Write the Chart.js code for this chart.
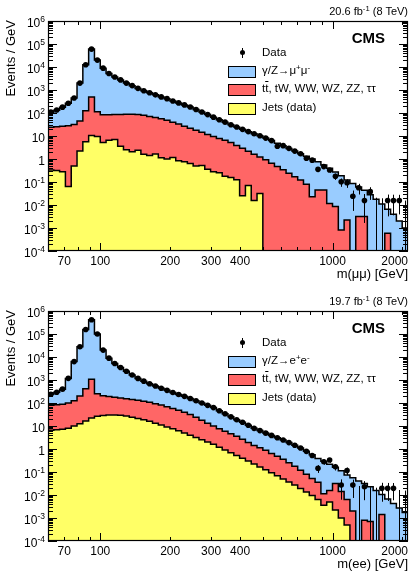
<!DOCTYPE html>
<html><head><meta charset="utf-8">
<script src="https://cdn.jsdelivr.net/npm/chart.js@4.4.1/dist/chart.umd.min.js"></script>
<style>
body{margin:0;background:#fff;width:418px;height:574px;overflow:hidden;position:relative;font-family:"Liberation Sans",Arial,Helvetica,sans-serif;color:#000}
.panel{position:absolute;left:0;width:418px}
.panel canvas{position:absolute;left:0;top:0}
.t{position:absolute;white-space:nowrap}
.sup{font-size:0.7em;position:relative;top:-0.5em}
.lg{position:absolute;left:262px;font-size:11.5px;line-height:11.5px;white-space:nowrap}
.box{position:absolute;left:228px;width:28px;height:12px;box-sizing:border-box;border:1px solid #000}
.dot{position:absolute;left:239.6px;top:50px;width:5.4px;height:5.4px;border-radius:50%;background:#000}
.bar{position:absolute;left:242px;top:48px;width:1px;height:9.5px;background:#000}
.ytitle{position:absolute;left:4px;top:120px;width:100px;text-align:right;font-size:13px;line-height:13px;transform-origin:0 0;transform:rotate(-90deg);white-space:nowrap}
.xtitle{position:absolute;right:10px;top:267px;font-size:13px;line-height:13px;white-space:nowrap}
.lumi{position:absolute;right:10px;top:6px;font-size:11px;line-height:11px;white-space:nowrap}
.cms{position:absolute;right:33px;top:30px;font-size:15px;line-height:15px;font-weight:bold}
</style></head>
<body>
<div class="panel" style="top:0;height:290px">
  <canvas id="c1" width="418" height="290"></canvas>
  <div class="lumi">20.6 fb<span class="sup">-1</span> (8 TeV)</div>
  <div class="cms">CMS</div>
  <div class="bar"></div><div class="dot"></div>
  <div class="lg" style="top:46.8px">Data</div>
  <div class="box" style="top:65.5px;background:#99ccff"></div>
  <div class="lg" style="top:64.8px">γ/Z→μ<span class="sup">+</span>μ<span class="sup">-</span></div>
  <div class="box" style="top:84px;background:#ff6666"></div>
  <div class="lg" style="top:83.3px">t<span style="text-decoration:overline">t</span>, tW, WW, WZ, ZZ, ττ</div>
  <div class="box" style="top:102.5px;background:#ffff66"></div>
  <div class="lg" style="top:101.8px">Jets (data)</div>
  <div class="ytitle">Events / GeV</div>
  <div class="xtitle">m(μμ) [GeV]</div>
</div>
<div class="panel" style="top:290px;height:284px">
  <canvas id="c2" width="418" height="284"></canvas>
  <div class="lumi">19.7 fb<span class="sup">-1</span> (8 TeV)</div>
  <div class="cms">CMS</div>
  <div class="bar"></div><div class="dot"></div>
  <div class="lg" style="top:46.8px">Data</div>
  <div class="box" style="top:65.5px;background:#99ccff"></div>
  <div class="lg" style="top:64.8px">γ/Z→e<span class="sup">+</span>e<span class="sup">-</span></div>
  <div class="box" style="top:84px;background:#ff6666"></div>
  <div class="lg" style="top:83.3px">t<span style="text-decoration:overline">t</span>, tW, WW, WZ, ZZ, ττ</div>
  <div class="box" style="top:102.5px;background:#ffff66"></div>
  <div class="lg" style="top:101.8px">Jets (data)</div>
  <div class="ytitle">Events / GeV</div>
  <div class="xtitle">m(ee) [GeV]</div>
</div>
<script>
// ---- binning (GeV) ----
const binEdges = [59.57, 63.10, 66.83, 70.79, 74.99, 79.43, 84.14, 89.13, 94.41, 100.0,
  105.93, 112.2, 118.85, 125.89, 133.35, 141.25, 149.62, 158.49, 167.88, 177.83,
  188.36, 199.53, 211.35, 223.87, 237.14, 251.19, 266.07, 281.84, 298.54, 316.23,
  334.97, 354.81, 375.84, 398.11, 421.7, 446.68, 473.15, 501.19, 530.88, 562.34,
  595.66, 630.96, 668.34, 707.95, 749.89, 794.33, 841.4, 891.25, 944.06, 1000,
  1059.25, 1122.02, 1188.5, 1258.93, 1333.52, 1412.54, 1496.24, 1584.89, 1678.8, 1778.28,
  1883.65, 1995.26, 2113.49];

// ---- axis ticks ----
const xTickValues = [70, 100, 200, 300, 400, 1000, 2000];
const xTickLabels = ['70', '100', '200', '300', '400', '1000', '2000'];
const xMajorTicks = [100, 1000];
const xMinorTicks = [70, 80, 90, 200, 300, 400, 500, 600, 700, 800, 900, 2000];
const yTickValues = [1e-4, 1e-3, 1e-2, 1e-1, 1, 10, 1e2, 1e3, 1e4, 1e5, 1e6];
const yTickBase = ['10', '10', '10', '10', '1', '10', '10', '10', '10', '10', '10'];
const yTickExp = ['-4', '-3', '-2', '-1', '', '', '2', '3', '4', '5', '6'];

// ---- m(mumu), events / GeV ----
const mumuJets = [0.331, 0.316, 0.282, 0.063, 0.501, 2.24, 5.62, 10.5, 9.55, 5.25,
  6.61, 7.08, 3.55, 2.51, 2.09, 2.40, 1.59, 1.41, 1.66, 1.12,
  1.0, 1.15, 0.832, 0.759, 0.631, 0.501, 0.525, 0.355, 0.282, 0.251,
  0.178, 0.158, 0.126, 0.0251, 0.0708, 0.0158, 0.0316, 0, 0, 0,
  0, 0, 0, 0, 0, 0, 0, 0, 0, 0,
  0, 0, 0, 0, 0, 0, 0, 0, 0, 0,
  0, 0];
const mumuTop = [23.7, 24.8, 26.0, 28.1, 31.1, 42.5, 120, 491, 103, 77.9,
  76.6, 78.0, 83.5, 86.6, 87.0, 82.7, 77.8, 69.4, 61.4, 55.1,
  46.9, 38.7, 32.3, 26.1, 21.3, 17.3, 13.9, 11.4, 9.27, 7.51,
  6.28, 5.09, 3.76, 2.93, 2.12, 1.61, 1.20, 0.933, 0.661, 0.468,
  0.339, 0.240, 0.170, 0.123, 0.0794, 0.0229, 0.0447, 0.0447, 0.0117, 0.00851,
  0.00081, 0.00224, 0, 0.00316, 0.00316, 0, 0, 0, 0.000589, 0,
  0, 0];
const mumuDY = [83.2, 107, 152, 235, 415, 1950, 12400, 59755, 19841, 8830,
  5165, 3630, 2667, 1906, 1460, 1090, 854, 688, 554, 445,
  369, 291, 242, 197, 160, 124, 95.2, 73.4, 56.5, 43.5,
  33.4, 25.7, 20.6, 16.5, 13.3, 11.0, 9.0, 7.2, 5.65, 4.43,
  3.46, 2.64, 2.07, 1.58, 1.24, 0.977, 0.714, 0.505, 0.386, 0.267,
  0.185, 0.121, 0.0851, 0.0571, 0.0405, 0.0282, 0.0178, 0.0110, 0.00602, 0.00398,
  0.0020, 0.0010];
const mumuData = [110, 135, 180, 265, 450, 2000, 12500, 60000, 20000, 8900,
  5250, 3700, 2750, 2000, 1550, 1180, 930, 760, 615, 500,
  420, 330, 275, 225, 182, 141, 110, 85, 66, 51,
  40, 31, 24.5, 19.5, 15.5, 12.6, 10.2, 8.1, 6.3, 3.6,
  3.8, 2.9, 2.2, 1.7, 1.07, 0.89, 0.355, 0.468, 0.331, 0.178,
  0.102, 0.093, 0.024, 0.056, 0.0158, 0.038, 0, 0, 0.0158, 0.0158,
  0.0158, 0];

// ---- m(ee), events / GeV ----
const eeJets = [6.61, 6.92, 7.24, 7.94, 10.0, 12.6, 16.6, 22.4, 26.3, 28.8,
  30.2, 30.2, 29.5, 27.5, 24.0, 21.4, 18.6, 15.9, 13.2, 11.0,
  9.12, 7.59, 6.17, 5.01, 3.98, 3.16, 2.51, 2.0, 1.59, 1.20,
  0.912, 0.692, 0.525, 0.398, 0.302, 0.224, 0.166, 0.126, 0.0933, 0.0692,
  0.0501, 0.0372, 0.0269, 0.0191, 0.0135, 0.00955, 0.00631, 0.00355, 0.00501, 0.00224,
  0.001, 0.0005, 0, 0, 0, 0, 0, 0, 0, 0,
  0, 0];
const eeTop = [72.8, 76.3, 81.9, 92.1, 116, 187, 400, 1050, 225, 180,
  160, 148, 137, 127, 117, 110, 102, 91.3, 80.1, 70.3,
  60.1, 49.9, 41.7, 34.8, 27.6, 20.8, 15.3, 11.2, 8.42, 6.39,
  4.98, 3.88, 3.02, 2.23, 1.60, 1.19, 0.956, 0.765, 0.538, 0.410,
  0.305, 0.214, 0.151, 0.101, 0.0659, 0.0429, 0.0292, 0.00765, 0.0108, 0.0294,
  0.0131, 0.00581, 0.0020, 0, 0.00079, 0.00071, 0, 0.00141, 0, 0,
  0, 0];
const eeDY = [160, 212, 309, 1075, 6184, 27985, 158072, 415797, 99749, 19744,
  8722, 5070, 3301, 2244, 1519, 1043, 771, 585, 456, 355,
  286, 231, 187, 155, 127, 102, 82.2, 66.2, 53.1, 38.1,
  28.0, 20.5, 15.1, 11.8, 8.81, 6.53, 5.19, 4.01, 3.26, 2.61,
  2.10, 1.65, 1.27, 0.976, 0.715, 0.510, 0.354, 0.284, 0.203, 0.130,
  0.0981, 0.0678, 0.0542, 0.0407, 0.0308, 0.0222, 0.0155, 0.0091, 0.00676, 0.00427,
  0.00275, 0.00174];
const eeData = [240, 295, 400, 1180, 6300, 28000, 158000, 417000, 100000, 20000,
  8900, 5250, 3470, 2400, 1660, 1175, 890, 690, 550, 437,
  355, 288, 234, 195, 158, 126, 100, 79, 63, 46,
  34, 25, 18.6, 14.5, 10.7, 7.9, 6.3, 4.9, 3.9, 3.1,
  2.45, 1.9, 1.45, 1.1, 0.79, 0.525, 0.145, 0.28, 0.331, 0.17,
  0.027, 0.115, 0.027, 0, 0.023, 0, 0, 0.0195, 0.0195, 0.0195,
  0, 0];

const colDY = '#99ccff', colTop = '#ff6666', colJets = '#ffff66';
const FONT = '"Liberation Sans", Arial, Helvetica, sans-serif';
const FLOOR = 1e-9; // empty bin -> drawn below the axis

function histPoints(vals) {
  const pts = vals.map((v, i) => ({ x: binEdges[i], y: v > 0 ? v : FLOOR }));
  const last = vals[vals.length - 1];
  pts.push({ x: binEdges[vals.length], y: last > 0 ? last : FLOOR });
  return pts;
}

function rootPlugin(data) {
  return {
    id: 'rootStyle',
    beforeDatasetDraw(chart, args) {
      if (args.index !== 0) return;
      const { ctx, chartArea: ca } = chart;
      const xs = chart.scales.x, ys = chart.scales.y;
      ctx.save();
      ctx.beginPath(); ctx.rect(ca.left, ca.top, ca.right - ca.left, ca.bottom - ca.top); ctx.clip();
      ctx.strokeStyle = '#000'; ctx.lineWidth = 1;
      data.forEach((d, i) => {
        const lo = binEdges[i], hi = binEdges[i + 1], w = hi - lo;
        const px = Math.round(xs.getPixelForValue(Math.sqrt(lo * hi))) + 0.5;
        let top, bot;
        if (d > 0) { const e = Math.sqrt(d * w) / w; top = d + e; bot = d - e; }
        else { top = 1.84 / w; bot = 0; }
        const pt = ys.getPixelForValue(top);
        const pb = bot > 0 ? ys.getPixelForValue(bot) : ca.bottom;
        if (pb - pt < 1) return;
        ctx.beginPath(); ctx.moveTo(px, pt); ctx.lineTo(px, pb); ctx.stroke();
      });
      ctx.restore();
    },
    afterDatasetsDraw(chart) {
      const { ctx, chartArea: ca } = chart;
      const xs = chart.scales.x, ys = chart.scales.y;
      ctx.save();
      ctx.strokeStyle = '#000'; ctx.lineWidth = 1.2;
      ctx.strokeRect(ca.left + 0.5, ca.top + 0.5, ca.right - ca.left - 1, ca.bottom - ca.top - 1);
      ctx.lineWidth = 1;
      const seg = (x1, y1, x2, y2) => { ctx.beginPath(); ctx.moveTo(x1, y1); ctx.lineTo(x2, y2); ctx.stroke(); };
      yTickValues.forEach((v, i) => {
        const py = Math.round(ys.getPixelForValue(v)) + 0.5;
        seg(ca.left, py, ca.left + 9, py); seg(ca.right, py, ca.right - 9, py);
        if (i < yTickValues.length - 1) {
          for (let m = 2; m < 10; m++) {
            const pm = Math.round(ys.getPixelForValue(v * m)) + 0.5;
            seg(ca.left, pm, ca.left + 5, pm); seg(ca.right, pm, ca.right - 5, pm);
          }
        }
      });
      xMajorTicks.forEach(v => {
        const px = Math.round(xs.getPixelForValue(v)) + 0.5;
        seg(px, ca.bottom, px, ca.bottom - 8); seg(px, ca.top, px, ca.top + 8);
      });
      xMinorTicks.forEach(v => {
        const px = Math.round(xs.getPixelForValue(v)) + 0.5;
        seg(px, ca.bottom, px, ca.bottom - 4); seg(px, ca.top, px, ca.top + 4);
      });
      ctx.fillStyle = '#000';
      ctx.textBaseline = 'alphabetic';
      ctx.font = '12px ' + FONT; ctx.textAlign = 'center';
      xTickValues.forEach((v, i) => {
        const w = ctx.measureText(xTickLabels[i]).width;
        const cx = Math.min(xs.getPixelForValue(v), ca.right - w / 2);
        ctx.fillText(xTickLabels[i], cx, ca.bottom + 14);
      });
      const R = ca.left - 3;
      yTickValues.forEach((v, i) => {
        const py = ys.getPixelForValue(v);
        ctx.font = '8.5px ' + FONT;
        const ew = yTickExp[i] ? ctx.measureText(yTickExp[i]).width : 0;
        if (ew) { ctx.textAlign = 'left'; ctx.fillText(yTickExp[i], R - ew, py + 0.5); }
        ctx.font = '12px ' + FONT; ctx.textAlign = 'right';
        ctx.fillText(yTickBase[i], R - ew, py + 5.8);
      });
      ctx.restore();
    }
  };
}

function makeChart(id, bottomPad, jets, top, dy, data) {
  const stackJets = jets.slice();
  const stackTop = jets.map((v, i) => v + top[i]);
  const stackDY = stackTop.map((v, i) => v + dy[i]);
  const pts = [];
  data.forEach((d, i) => { if (d > 0) pts.push({ x: Math.sqrt(binEdges[i] * binEdges[i + 1]), y: d }); });
  const hist = (vals, color) => ({
    type: 'line', data: histPoints(vals), stepped: true, borderColor: '#000', borderWidth: 1.5,
    backgroundColor: color, fill: 'start', pointRadius: 0, tension: 0
  });
  return new Chart(document.getElementById(id), {
    type: 'line',
    data: {
      datasets: [
        { type: 'scatter', data: pts, pointRadius: 2.8, pointBackgroundColor: '#000', pointBorderWidth: 0, pointHoverRadius: 0 },
        hist(stackJets, colJets),
        hist(stackTop, colTop),
        hist(stackDY, colDY)
      ]
    },
    options: {
      responsive: false, animation: false, devicePixelRatio: 1, events: [],
      layout: { padding: { left: 48, right: 10, top: 21, bottom: bottomPad } },
      plugins: { legend: { display: false }, tooltip: { enabled: false } },
      scales: {
        x: { type: 'logarithmic', min: binEdges[0], max: binEdges[binEdges.length - 1], display: false },
        y: { type: 'logarithmic', min: 1e-4, max: 1e6, display: false }
      }
    },
    plugins: [rootPlugin(data)]
  });
}

makeChart('c1', 39, mumuJets, mumuTop, mumuDY, mumuData);
makeChart('c2', 33, eeJets, eeTop, eeDY, eeData);
</script>
</body></html>
